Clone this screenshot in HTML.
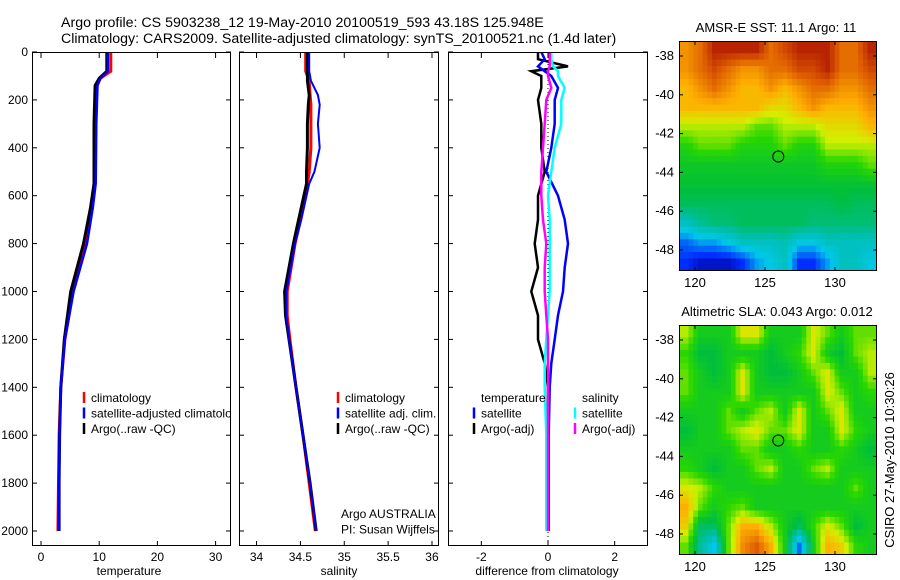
<!DOCTYPE html>
<html><head><meta charset="utf-8"><style>
body{margin:0;background:#fff}
svg{display:block;font-family:"Liberation Sans",sans-serif;font-size:12px}
</style></head><body>
<svg id="fig" width="900" height="580" viewBox="0 0 900 580">
<text x="61" y="27" font-size="14.2">Argo profile: CS 5903238_12 19-May-2010 20100519_593 43.18S 125.948E</text>
<text x="61" y="43" font-size="14.2">Climatology: CARS2009. Satellite-adjusted climatology: synTS_20100521.nc (1.4d later)</text>
<text x="129" y="575" text-anchor="middle">temperature</text>
<text x="339" y="575" text-anchor="middle">salinity</text>
<text x="547" y="575" text-anchor="middle">difference from climatology</text>
<text x="776" y="32" font-size="13" text-anchor="middle">AMSR-E SST: 11.1 Argo: 11</text>
<text x="777" y="316" font-size="13" text-anchor="middle">Altimetric SLA: 0.043 Argo: 0.012</text>
<text transform="translate(894,460) rotate(-90)" font-size="13" text-anchor="middle">CSIRO 27-May-2010 10:30:26</text>
<g id="plots"></g>
</svg>
<script>
// ---- data ----
const depthTicks=[0,200,400,600,800,1000,1200,1400,1600,1800,2000];
const tempTicks=[0,10,20,30];
const salTicks=[34,34.5,35,35.5,36];
const salTickLabels=["34","34.5","35","35.5","36"];
const diffTicks=[-2,0,2];
const lonTicks=[120,125,130];
const latTicks=[-38,-40,-42,-44,-46,-48];

const climDepth=[0,80,110,140,300,550,650,800,1000,1200,1400,1600,1800,2000];
const tempClim=[12.0,12.0,10.2,9.6,9.4,9.3,8.8,7.7,5.5,4.1,3.4,3.1,3.0,2.9];
const tempSat=[11.5,11.5,10.2,9.7,9.5,9.4,8.9,7.9,5.6,4.1,3.4,3.2,3.1,3.1];
const tempArgo=[11.3,11.3,10.0,9.3,9.1,9.1,8.5,7.3,5.1,4.0,3.4,3.2,3.1,3.1];
const salDepth=[0,80,120,180,220,300,400,500,550,700,800,1000,1100,1200,1400,1600,1800,2000];
const salClim=[34.56,34.56,34.60,34.61,34.62,34.62,34.62,34.60,34.58,34.50,34.44,34.35,34.35,34.38,34.45,34.53,34.60,34.67];
const salSat=[34.60,34.60,34.62,34.70,34.72,34.70,34.72,34.66,34.60,34.51,34.44,34.34,34.34,34.37,34.45,34.53,34.61,34.68];
const salArgo=[34.58,34.58,34.58,34.60,34.59,34.58,34.58,34.57,34.57,34.48,34.42,34.32,34.33,34.37,34.45,34.53,34.61,34.68];
const dDepth=[0,30,60,80,100,150,200,300,400,500,600,700,800,900,1000,1100,1200,1300,1400,1600,2000];
const dTempSat=[-0.2,-0.1,-0.3,-0.1,0.1,0.3,0.2,0.2,0.1,-0.05,0.3,0.5,0.6,0.5,0.45,0.3,0.2,0.1,0.05,0.02,0.02];
const dTempArgo=[-0.3,-0.3,0.6,-0.5,-0.2,-0.2,-0.3,-0.2,-0.2,-0.1,-0.3,-0.3,-0.4,-0.3,-0.5,-0.3,-0.3,-0.1,0,0,0];
const dSalSat=[0.1,0.1,0.15,0.3,0.3,0.5,0.4,0.4,0.2,0.1,0.0,0.05,0.05,0.05,0.05,0.0,-0.05,-0.1,-0.1,-0.05,-0.05];
const dSalArgo=[0.05,0.05,0.05,0.0,0.0,0.1,-0.05,-0.1,-0.15,-0.2,-0.2,-0.15,-0.05,-0.1,-0.1,-0.05,0.0,0.0,0.0,0.0,0.0];

const sstGrid=[
[13.5,14,15,15,15,15,14,14.5,15,15,15,14,14,15],
[13.5,14,14.5,14,13.5,13.5,14,14,14.5,14.5,15,14,14,14.5],
[13,13.5,14,13.5,13,13,13.5,13,13.5,14,14,13.5,13.5,14],
[13,13,13,13,13,13,12.5,12.5,13,13.5,13,13,13,13.5],
[12,12,12,12,12,11.5,11.5,12,12,12,12.5,12.5,12.5,13],
[11,11.5,11.5,11.5,11,11,11,11.5,11,11,12,12,12,12],
[10.6,10.6,10.6,10.6,10.6,10.6,10.6,10.6,10.6,10.6,11,11,11,11.5],
[10.4,10.4,10.4,10.4,10.4,10.4,10.4,10.4,10.4,10.4,10.4,10.4,10.4,10.4],
[10,10,10,10,10,10,10,10,10,10,10,10.2,10,10],
[9,9.5,9.8,9.8,10,10,10,10,10,9.8,9.8,9.8,9.8,9.8],
[7.5,8,8,8.5,9,9,9,9.2,8.5,8.5,9,9,9,9],
[7,6.5,6.5,6.5,7,8,8.5,9,7,7,8,9,9,8.5]];
const slaGrid=[
[0.08,0,0,0,0.1,0.1,0,0,0,0.1,0.05,0,0.05,0.05],
[0.03,-0.03,-0.03,0,0,0,-0.03,0,0.03,0.1,0,-0.03,0.05,0.08],
[0.05,0,-0.03,0,0.1,0,-0.03,-0.03,0,0.05,0.1,0,0,0.08],
[0.05,0,0,0,0.1,0,0,0,0,0,0.1,0.05,0,0.03],
[0,0,0,0.05,0,0.05,0.08,0,0.1,0,0.05,0.1,0,0],
[-0.03,0,0,0.05,0.08,0.1,0.05,0.05,0.1,0,0,0.1,0.03,0],
[0,0,0,0,0.05,0.05,0,0,0.03,0,0,0.03,0,-0.03],
[0.03,0,-0.03,0,0,0.05,0.08,0,0,0.05,0.08,0,0,0],
[0.1,0.08,0.03,0,0,0,0,0,0,0,0,0,0.05,0],
[0.15,0.05,0,0.03,0.05,0,0,0,0,0,0,0,0,0],
[0.12,-0.05,-0.05,0.05,0.15,0.15,0.08,0,-0.05,0.03,0.1,0.05,-0.03,0],
[0.05,-0.08,-0.15,0.05,0.18,0.22,0.15,0,-0.2,0,0.15,0.12,0.03,0]];
const argoLon=125.948, argoLat=-43.18;

// ---- drawing ----
const NS="http://www.w3.org/2000/svg";
const root=document.getElementById('plots');
function mk(tag,attrs,parent){const e=document.createElementNS(NS,tag);for(const k in attrs)e.setAttribute(k,attrs[k]);(parent||root).appendChild(e);return e;}
const yD=d=>52+d*(479/2000);
const panels=[
 {x0:32,x1:231,lo:-1.55,hi:32.65,ticks:tempTicks,labels:tempTicks.map(String),name:'temperature-panel'},
 {x0:239,x1:439,lo:33.8,hi:36.08,ticks:salTicks,labels:salTickLabels,name:'salinity-panel'},
 {x0:448,x1:648,lo:-3,hi:3,ticks:diffTicks,labels:diffTicks.map(String),name:'difference-panel'}];
panels.forEach((p,i)=>{
 p.sx=v=>p.x0+(v-p.lo)/(p.hi-p.lo)*(p.x1-p.x0);
 const g=mk('g',{});
 
 
 const cid='clip'+i;
 const cp=mk('clipPath',{id:cid},g);mk('rect',{x:p.x0,y:52,width:p.x1-p.x0,height:494},cp);
 p.g=mk('g',{'clip-path':'url(#'+cid+')'},g);
 mk('rect',{x:p.x0,y:52,width:p.x1-p.x0,height:494,fill:'#fff'},p.g);
 p.ticksG=g;
});
function poly(p,xs,ds,color,w,name){
 let pts=xs.map((v,i)=>p.sx(v).toFixed(1)+','+yD(ds[i]).toFixed(1)).join(' ');
 const e=mk('polyline',{points:pts,fill:'none',stroke:color,'stroke-width':w},p.g);
 
 
}
const P=panels;
poly(P[0],tempClim,climDepth,'#f00',3,'temp-climatology-line');
poly(P[0],tempArgo,climDepth,'#000',3,'temp-argo-line');
poly(P[0],tempSat,climDepth,'#00f',2.5,'temp-satellite-line');
poly(P[1],salClim,salDepth,'#f00',3,'sal-climatology-line');
poly(P[1],salArgo,salDepth,'#000',3,'sal-argo-line');
poly(P[1],salSat,salDepth,'#00f',2,'sal-satellite-line');
mk('line',{x1:P[2].sx(0),x2:P[2].sx(0),y1:52,y2:546,stroke:'#000','stroke-width':1,'stroke-dasharray':'1,3'},P[2].g);
poly(P[2],dTempArgo,dDepth,'#000',2.5,'diff-temp-argo-line');
poly(P[2],dTempSat,dDepth,'#00f',2.5,'diff-temp-satellite-line');
poly(P[2],dSalSat,dDepth,'#0ff',2.5,'diff-sal-satellite-line');
poly(P[2],dSalArgo,dDepth,'#f0f',2.5,'diff-sal-argo-line');

function legend(p,x,y,items,name){
 const g=mk('g',{},p.g);
 
 
 items.forEach((it,i)=>{
  const yy=y+i*15.5;
  if(it[1])mk('line',{x1:x,x2:x,y1:yy-10,y2:yy+1,stroke:it[1],'stroke-width':2.5},g);
  const t=mk('text',{x:x+7,y:yy},g);t.textContent=it[0];
 });
}
legend(P[0],84,402,[['climatology','#f00'],['satellite-adjusted climatology','#00f'],['Argo(..raw -QC)','#000']],'temp-legend');
legend(P[1],338,402,[['climatology','#f00'],['satellite adj. clim.','#00f'],['Argo(..raw -QC)','#000']],'sal-legend');
legend(P[1],334,518,[['Argo AUSTRALIA',null],['PI: Susan Wijffels',null]],'argo-credit');
legend(P[2],474,402,[['temperature',null],['satellite','#00f'],['Argo(-adj)','#000']],'diff-temp-legend');
legend(P[2],575,402,[['salinity',null],['satellite','#0ff'],['Argo(-adj)','#f0f']],'diff-sal-legend');

panels.forEach((p,i)=>{
 const g=p.ticksG;
 mk('rect',{x:p.x0+0.5,y:52.5,width:p.x1-p.x0-1,height:493,fill:'none',stroke:'#000'},g);
 p.ticks.forEach((v,k)=>{const x=p.sx(v);
  mk('line',{x1:x,x2:x,y1:546,y2:541,stroke:'#000'},g);
  mk('line',{x1:x,x2:x,y1:53,y2:58,stroke:'#000'},g);
  const t=mk('text',{x:x,y:561,'text-anchor':'middle'},g);t.textContent=p.labels[k];});
 depthTicks.forEach(d=>{const y=yD(d);
  mk('line',{x1:p.x0,x2:p.x0+5,y1:y,y2:y,stroke:'#000'},g);
  mk('line',{x1:p.x1-5,x2:p.x1,y1:y,y2:y,stroke:'#000'},g);
  if(i===0){const t=mk('text',{x:p.x0-4,y:y+4,'text-anchor':'end'},g);t.textContent=d;}});
});

// colormap
const stops=[[0,[0,0,140]],[0.1,[0,40,255]],[0.25,[0,200,235]],[0.35,[0,190,170]],[0.45,[0,190,60]],[0.55,[40,215,0]],[0.65,[210,240,0]],[0.75,[255,175,0]],[0.87,[220,90,0]],[1,[160,0,0]]];
function cmap(t){t=Math.max(0,Math.min(1,t));for(let i=1;i<stops.length;i++){if(t<=stops[i][0]){const a=stops[i-1],b=stops[i],f=(t-a[0])/(b[0]-a[0]);return 'rgb('+a[1].map((c,j)=>Math.round(c+(b[1][j]-c)*f)).join(',')+')';}}return 'rgb(160,0,0)';}
function sample(grid,fr,fc){ // bilinear at fractional cell-center coords
 const R=grid.length,C=grid[0].length;
 fr=Math.max(0,Math.min(R-1,fr));fc=Math.max(0,Math.min(C-1,fc));
 const r0=Math.floor(fr),c0=Math.floor(fc),r1=Math.min(R-1,r0+1),c1=Math.min(C-1,c0+1);
 const a=fr-r0,b=fc-c0;
 return grid[r0][c0]*(1-a)*(1-b)+grid[r0][c1]*(1-a)*b+grid[r1][c0]*a*(1-b)+grid[r1][c1]*a*b;
}
function map(y0,grid,lo,hi,name){
 const x0=679,x1=877,y1=y0+230;
 const sx=l=>695+(l-120)*14, sy=la=>(y0+15)+(-38-la)*19.4;
 const g=mk('g',{});
 
 
 const cid='c'+name;const cp=mk('clipPath',{id:cid},g);mk('rect',{x:x0,y:y0,width:x1-x0,height:230},cp);
 const gg=mk('g',{'clip-path':'url(#'+cid+')'},g);
 const rows=grid.length,cols=grid[0].length,S=3;
 const latTop=-37.2,latBot=-49.1,lonL=118.86,lonR=133;
 for(let r=0;r<rows*S;r++)for(let c=0;c<cols*S;c++){
  const v=sample(grid,(r+0.5)/S-0.5,(c+0.5)/S-0.5);
  const la0=latTop+(latBot-latTop)*r/(rows*S), la1=latTop+(latBot-latTop)*(r+1)/(rows*S);
  const l0=lonL+(lonR-lonL)*c/(cols*S), l1=lonL+(lonR-lonL)*(c+1)/(cols*S);
  const cell=mk('rect',{x:sx(l0).toFixed(1),y:sy(la0).toFixed(1),width:(sx(l1)-sx(l0)+0.6).toFixed(1),height:(sy(la1)-sy(la0)+0.6).toFixed(1),fill:cmap((v-lo)/(hi-lo))},gg);
  
  
 }
 const c=mk('circle',{cx:sx(argoLon),cy:sy(argoLat),r:5.5,fill:'none',stroke:'#000'},g);
 
 
 mk('rect',{x:x0+0.5,y:y0+0.5,width:x1-x0-1,height:229,fill:'none',stroke:'#000'},g);
 lonTicks.forEach(l=>{const x=sx(l);mk('line',{x1:x,x2:x,y1:y1,y2:y1-4,stroke:'#000'},g);mk('line',{x1:x,x2:x,y1:y0,y2:y0+4,stroke:'#000'},g);
  const t=mk('text',{x:x,y:y1+16,'text-anchor':'middle','font-size':13},g);t.textContent=l;});
 latTicks.forEach(la=>{const y=sy(la);mk('line',{x1:x0,x2:x0+4,y1:y,y2:y,stroke:'#000'},g);mk('line',{x1:x1-4,x2:x1,y1:y,y2:y,stroke:'#000'},g);
  const t=mk('text',{x:x0-5,y:y+4,'text-anchor':'end','font-size':13},g);t.textContent=la;});
}
map(41,sstGrid,6,15.5,'sst-map');
map(325,slaGrid,-0.3,0.3,'sla-map');
</script>
</body></html>
